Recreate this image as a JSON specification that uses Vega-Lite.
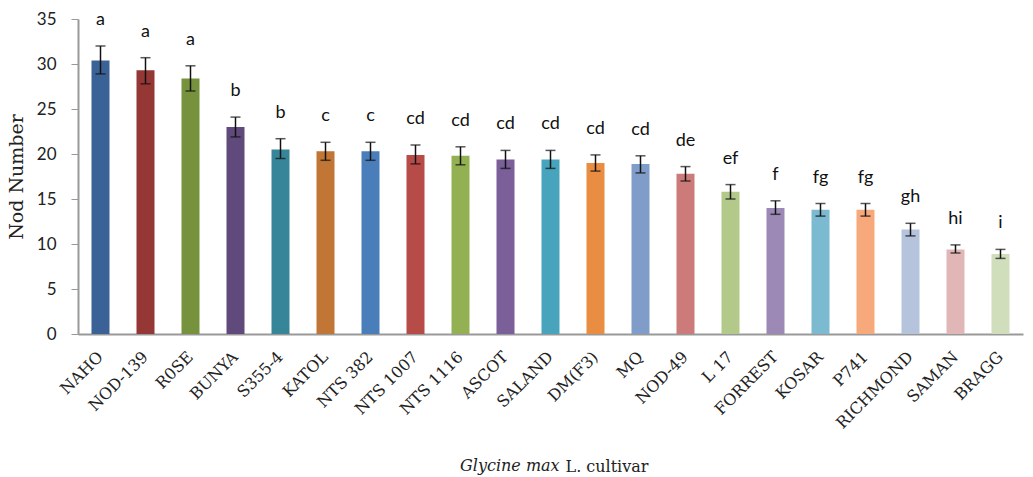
{
  "$schema": "https://vega.github.io/schema/vega-lite/v6.json",
  "width": 945,
  "height": 315,
  "autosize": {"type": "none"},
  "padding": {"left": 78, "top": 19, "right": 10, "bottom": 143},
  "background": "white",
  "config": {"view": {"stroke": null}},
  "title": {
    "text": "Glycine max", "orient": "bottom", "anchor": "start", "frame": "group",
    "dx": 382, "offset": -3, "baseline": "alphabetic",
    "font": "DejaVu Serif", "fontStyle": "italic", "fontWeight": "normal", "fontSize": 16, "color": "#222"
  },
  "data": {"values": [
    {"cultivar": "NAHO", "mean": 30.4, "lo": 28.9, "hi": 32.0, "grp": "a"},
    {"cultivar": "NOD-139", "mean": 29.3, "lo": 27.8, "hi": 30.7, "grp": "a"},
    {"cultivar": "R0SE", "mean": 28.4, "lo": 27.0, "hi": 29.8, "grp": "a"},
    {"cultivar": "BUNYA", "mean": 23.0, "lo": 21.9, "hi": 24.1, "grp": "b"},
    {"cultivar": "S355-4", "mean": 20.5, "lo": 19.5, "hi": 21.7, "grp": "b"},
    {"cultivar": "KATOL", "mean": 20.3, "lo": 19.3, "hi": 21.3, "grp": "c"},
    {"cultivar": "NTS 382", "mean": 20.3, "lo": 19.3, "hi": 21.3, "grp": "c"},
    {"cultivar": "NTS 1007", "mean": 19.9, "lo": 18.9, "hi": 21.0, "grp": "cd"},
    {"cultivar": "NTS 1116", "mean": 19.8, "lo": 18.8, "hi": 20.8, "grp": "cd"},
    {"cultivar": "ASCOT", "mean": 19.4, "lo": 18.4, "hi": 20.4, "grp": "cd"},
    {"cultivar": "SALAND", "mean": 19.4, "lo": 18.4, "hi": 20.4, "grp": "cd"},
    {"cultivar": "DM(F3)", "mean": 19.0, "lo": 18.1, "hi": 19.9, "grp": "cd"},
    {"cultivar": "MQ", "mean": 18.9, "lo": 17.9, "hi": 19.8, "grp": "cd"},
    {"cultivar": "NOD-49", "mean": 17.8, "lo": 17.0, "hi": 18.6, "grp": "de"},
    {"cultivar": "L 17", "mean": 15.8, "lo": 15.0, "hi": 16.6, "grp": "ef"},
    {"cultivar": "FORREST", "mean": 14.0, "lo": 13.3, "hi": 14.8, "grp": "f"},
    {"cultivar": "KOSAR", "mean": 13.8, "lo": 13.1, "hi": 14.5, "grp": "fg"},
    {"cultivar": "P741", "mean": 13.8, "lo": 13.1, "hi": 14.5, "grp": "fg"},
    {"cultivar": "RICHMOND", "mean": 11.6, "lo": 10.9, "hi": 12.3, "grp": "gh"},
    {"cultivar": "SAMAN", "mean": 9.4, "lo": 9.0, "hi": 9.9, "grp": "hi"},
    {"cultivar": "BRAGG", "mean": 8.9, "lo": 8.4, "hi": 9.4, "grp": "i"}
  ]},
  "encoding": {
    "x": {
      "field": "cultivar", "type": "nominal", "sort": null,
      "scale": {"paddingInner": 0.6, "paddingOuter": 0.3},
      "axis": {
        "title": "L. cultivar",
        "titleFont": "DejaVu Serif", "titleFontWeight": "normal",
        "titleFontSize": 16, "titleColor": "#222",
        "titleX": 487, "titleY": 137, "titleAlign": "left", "titleBaseline": "alphabetic", "titleAnchor": null,
        "labelAngle": -45, "labelAlign": "right", "labelBaseline": "middle",
        "labelFont": "DejaVu Serif", "labelFontSize": 16, "labelColor": "#222",
        "labelPadding": 20, "ticks": false, "domainColor": "#999", "domainWidth": 2, "labelOverlap": false
      }
    }
  },
  "layer": [
    {
      "mark": {"type": "bar"},
      "encoding": {
        "y": {
          "field": "mean", "type": "quantitative",
          "scale": {"domain": [0, 35], "nice": false},
          "axis": {
            "title": "Nod Number", "titleFont": "DejaVu Serif", "titleFontSize": 19, "titleFontWeight": "normal",
            "titleColor": "#222", "titlePadding": 10,
            "values": [0, 5, 10, 15, 20, 25, 30, 35], "grid": false,
            "labelFont": "Lato", "labelFontSize": 17, "labelColor": "#222", "labelPadding": 15,
            "tickSize": 7, "tickColor": "#999", "domainColor": "#999", "domainWidth": 2
          }
        },
        "color": {
          "field": "cultivar", "type": "nominal", "legend": null,
          "scale": {
            "domain": ["NAHO", "NOD-139", "R0SE", "BUNYA", "S355-4", "KATOL", "NTS 382", "NTS 1007", "NTS 1116", "ASCOT", "SALAND", "DM(F3)", "MQ", "NOD-49", "L 17", "FORREST", "KOSAR", "P741", "RICHMOND", "SAMAN", "BRAGG"],
            "range": ["#3B6296", "#953735", "#77923C", "#604A7B", "#378599", "#C17636", "#4A7EBB", "#B74B48", "#93B152", "#7A5F99", "#48A4BC", "#E98D42", "#809DC9", "#CC7B7A", "#B2C98A", "#9C89B5", "#7BBAD0", "#F7A97B", "#B6C3DD", "#E0B7B6", "#D1DEBB"]
          }
        }
      }
    },
    {
      "mark": {"type": "rule", "color": "#111", "strokeWidth": 1.5},
      "encoding": {
        "y": {"field": "lo", "type": "quantitative"},
        "y2": {"field": "hi"}
      }
    },
    {
      "mark": {"type": "tick", "color": "#111", "thickness": 1.5, "size": 10},
      "encoding": {"y": {"field": "hi", "type": "quantitative"}}
    },
    {
      "mark": {"type": "tick", "color": "#111", "thickness": 1.5, "size": 10},
      "encoding": {"y": {"field": "lo", "type": "quantitative"}}
    },
    {
      "mark": {"type": "text", "font": "Lato", "fontSize": 18, "color": "#111", "baseline": "alphabetic", "dy": -21},
      "encoding": {
        "y": {"field": "hi", "type": "quantitative"},
        "text": {"field": "grp"}
      }
    }
  ]
}
